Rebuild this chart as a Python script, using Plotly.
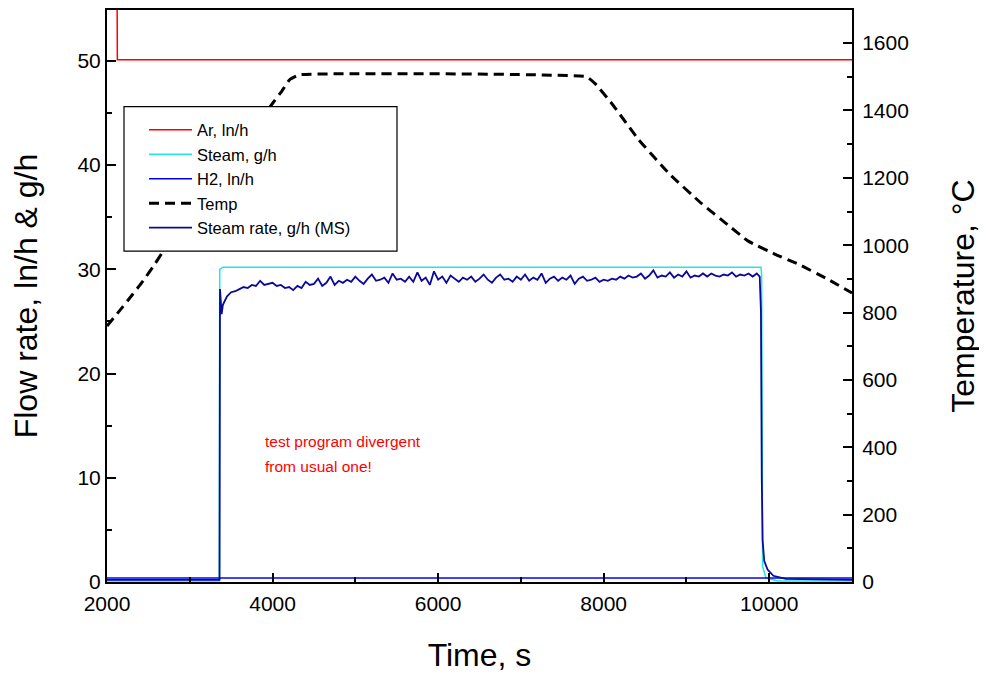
import plotly.graph_objects as go

# ---------------- data ----------------
ar_t = [2000, 2120, 2125, 11000]
ar_v = [60.0, 60.0, 50.1, 50.1]

steam_t = [2000, 3355, 3362, 3400, 9900, 9908, 9920, 9960, 10100, 11000]
steam_v = [0.1, 0.1, 30.0, 30.2, 30.2, 29.5, 1.5, 0.4, 0.1, 0.1]

h2_t = [2000, 11000]
h2_v = [0.38, 0.38]

temp_t = [2000, 2180, 2313, 2434, 2578, 2663, 3000, 3300, 3600, 3850, 3988, 4108,
          4205, 4325, 7795, 7900, 8100, 8420, 8800, 9181, 9500, 9747, 10072,
          10349, 10700, 11000]
temp_v = [760, 814, 855, 893, 944, 976, 1085, 1185, 1290, 1370, 1417, 1456,
          1491, 1506, 1500, 1479, 1420, 1314, 1210, 1124, 1060, 1012, 973,
          944, 900, 858]

# MS steam rate: onset, noisy plateau (every 50 s from 3400 s), decay tail
ms_pre_t = [2000, 3360, 3365, 3385]
ms_pre_v = [0.2, 0.2, 28.1, 25.7]
ms_plateau_start = 3400
ms_plateau_step = 50
ms_plateau_v = [
    26.6, 27.4, 27.8, 27.9, 28.1, 28.3, 28.2, 28.5, 28.4, 28.9,
    28.5, 28.6, 28.7, 28.4, 28.5, 28.2, 28.3, 28.0, 28.4, 28.2,
    28.8, 28.5, 28.6, 29.1, 28.4, 28.7, 29.3, 28.5, 28.9, 28.7,
    29.0, 28.8, 29.3, 28.9, 28.6, 29.1, 29.5, 28.9, 29.0, 29.2,
    28.7, 29.6, 29.0, 29.1, 28.8, 29.3, 28.8, 29.7, 28.9, 29.2,
    28.5, 29.8, 29.0, 29.3, 28.7, 29.4, 29.1, 28.8, 29.2, 29.0,
    29.3, 28.8, 29.1, 29.5, 29.0, 28.7, 29.2, 29.5, 29.0, 29.1,
    28.8, 29.3, 29.0, 29.5, 28.9, 29.2, 29.0, 29.6, 28.7, 29.1,
    29.3, 28.9, 29.2, 29.0, 29.4, 28.6, 29.1, 29.3, 28.9, 29.0,
    29.2, 28.8, 29.0, 28.9, 29.1, 29.0, 29.3, 29.1, 29.4, 29.2,
    29.3, 29.6, 29.1, 29.4, 29.9, 29.2, 29.4, 29.3, 29.7, 29.2,
    29.5, 29.3, 29.8, 29.2, 29.4, 29.3, 29.6, 29.3, 29.6, 29.4,
    29.3, 29.5, 29.4, 29.7, 29.3, 29.5, 29.4, 29.6, 29.3, 29.6,
]
ms_post_t = [9885, 9900, 9910, 9920, 9940, 9980, 10050, 10200, 11000]
ms_post_v = [29.3, 26.0, 10.0, 4.0, 2.0, 1.2, 0.6, 0.3, 0.2]

ms_t = ms_pre_t + [ms_plateau_start + ms_plateau_step * i for i in range(len(ms_plateau_v))] + ms_post_t
ms_v = ms_pre_v + ms_plateau_v + ms_post_v

note_lines = ["test program divergent", "from usual one!"]

FONT = "Arial, Liberation Sans, sans-serif"

# plot area in page pixels (reference): x 107..852, y 6..582 ; page has 8px body margin
PX0, PX1, PY0, PY1 = 107, 852, 8, 582
PW, PH = PX1 - PX0, PY1 - PY0


def px(x):
    return (x - PX0) / PW


def py(y):
    return (PY1 - y) / PH


fig = go.Figure()
fig.add_trace(go.Scatter(x=ar_t, y=ar_v, mode="lines", name="Ar, ln/h",
                         line=dict(color="#ff0000", width=1.5)))
fig.add_trace(go.Scatter(x=steam_t, y=steam_v, mode="lines", name="Steam, g/h",
                         line=dict(color="#22e5e5", width=1.5)))
fig.add_trace(go.Scatter(x=h2_t, y=h2_v, mode="lines", name="H2, ln/h",
                         line=dict(color="#0000ff", width=1.5)))
fig.add_trace(go.Scatter(x=temp_t, y=temp_v, mode="lines", name="Temp", yaxis="y2",
                         line=dict(color="black", width=3, dash="10px,6px", shape="spline",
                                   smoothing=0.3)))
fig.add_trace(go.Scatter(x=ms_t, y=ms_v, mode="lines", name="Steam rate, g/h (MS)",
                         line=dict(color="#0a0a9a", width=1.8)))

fig.add_annotation(x=px(263), y=py(441), xref="paper", yref="paper", text=note_lines[0],
                   showarrow=False, xanchor="left", yanchor="middle",
                   font=dict(family=FONT, size=15.5, color="#ff0000"))
fig.add_annotation(x=px(263), y=py(466), xref="paper", yref="paper", text=note_lines[1],
                   showarrow=False, xanchor="left", yanchor="middle",
                   font=dict(family=FONT, size=15.5, color="#ff0000"))

# legend frame
fig.add_shape(type="rect", xref="paper", yref="paper",
              x0=px(124), x1=px(397), y0=py(250), y1=py(105),
              line=dict(color="black", width=1.2), fillcolor="white", layer="above")

fig.update_layout(
    width=987, height=677,
    margin=dict(l=PX0 - 8, r=987 - (PX1 - 8), t=0, b=677 - (PY1 - 8)),
    paper_bgcolor="white", plot_bgcolor="white",
    font=dict(family=FONT, color="black"),
    showlegend=True,
    legend=dict(x=px(144), y=py(111), xanchor="left", yanchor="top",
                bgcolor="rgba(0,0,0,0)", borderwidth=0, itemwidth=43,
                font=dict(family=FONT, size=16.5), tracegroupgap=0),
    xaxis=dict(range=[2000, 11000], dtick=2000, tick0=2000, tickformat="d",
               showgrid=False, zeroline=False,
               showline=True, linecolor="black", linewidth=2, mirror=True,
               ticks="inside", ticklen=9, tickwidth=2, tickcolor="black",
               minor=dict(dtick=1000, ticks="inside", ticklen=5, tickwidth=1.5, tickcolor="black"),
               tickfont=dict(size=21), ticklabelstandoff=2,
               title=dict(text="Time, s", font=dict(size=32), standoff=29)),
    yaxis=dict(range=[0, (PY1 - PY0) / 10.46], dtick=10, showgrid=False, zeroline=False,
               showline=True, linecolor="black", linewidth=2,
               ticks="inside", ticklen=9, tickwidth=2, tickcolor="black",
               minor=dict(dtick=5, ticks="inside", ticklen=5, tickwidth=1.5, tickcolor="black"),
               tickfont=dict(size=21),
               title=dict(text="Flow rate, ln/h & g/h", font=dict(size=32), standoff=31)),
    yaxis2=dict(range=[0, (PY1 - PY0) / 0.338], dtick=200, overlaying="y", side="right",
                showgrid=False, zeroline=False, showline=True, linecolor="black", linewidth=2,
                ticks="inside", ticklen=9, tickwidth=2, tickcolor="black",
                minor=dict(dtick=100, ticks="inside", ticklen=5, tickwidth=1.5, tickcolor="black"),
                tickfont=dict(size=21), ticklabelstandoff=4,
                title=dict(text="Temperature, °C", font=dict(size=32), standoff=44)),
)

fig.write_html("out.html")
